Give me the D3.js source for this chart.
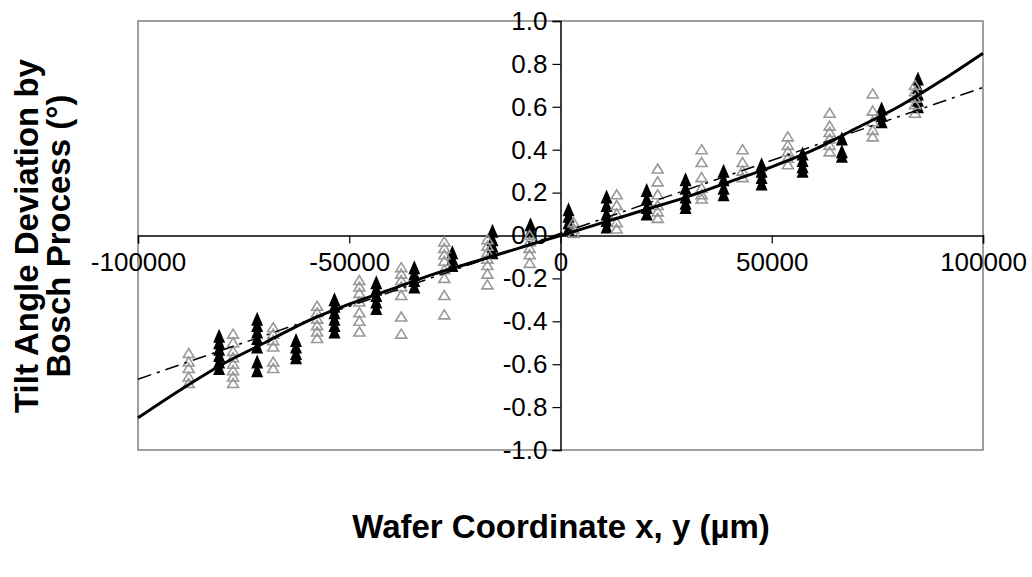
<!DOCTYPE html>
<html>
<head>
<meta charset="utf-8">
<script src="https://cdn.jsdelivr.net/npm/d3@7"></script>
<style>
  body { margin: 0; background: #fff; }
  svg { font-family: "Liberation Sans", Arial, sans-serif; }
</style>
</head>
<body>
<svg id="chart" width="1032" height="577"></svg>
<script>
// pontos pretos (preenchidos) - [x, y]
var blackPoints = [
  [-80800,-0.47],[-80800,-0.50],[-80800,-0.53],[-80800,-0.56],[-80800,-0.59],[-80800,-0.62],
  [-71800,-0.39],[-71800,-0.42],[-71800,-0.45],[-71800,-0.48],[-71800,-0.52],[-71800,-0.59],[-71800,-0.63],
  [-62600,-0.49],[-62600,-0.52],[-62600,-0.55],[-62600,-0.57],
  [-53500,-0.30],[-53500,-0.33],[-53500,-0.36],[-53500,-0.39],[-53500,-0.42],[-53500,-0.45],
  [-43600,-0.22],[-43600,-0.25],[-43600,-0.28],[-43600,-0.31],[-43600,-0.34],
  [-34600,-0.15],[-34600,-0.18],[-34600,-0.21],[-34600,-0.24],
  [-25600,-0.08],[-25600,-0.11],[-25600,-0.14],
  [-16100,0.02],[-16100,-0.02],[-16100,-0.05],[-16100,-0.08],
  [-7100,0.05],[-7100,0.02],
  [1900,0.12],[1900,0.09],[1900,0.06],[1900,0.03],
  [10900,0.18],[10900,0.14],[10900,0.10],[10900,0.07],[10900,0.04],
  [20400,0.21],[20400,0.17],[20400,0.13],[20400,0.10],
  [29600,0.26],[29600,0.22],[29600,0.18],[29600,0.15],[29600,0.13],
  [38600,0.30],[38600,0.26],[38600,0.22],[38600,0.19],
  [47600,0.33],[47600,0.30],[47600,0.27],[47600,0.24],
  [57300,0.38],[57300,0.35],[57300,0.32],[57300,0.30],
  [66600,0.45],[66600,0.39],[66600,0.37],
  [76000,0.59],[76000,0.56],[76000,0.53],
  [84600,0.73],[84600,0.69],[84600,0.66],[84600,0.63],[84600,0.60]
];

// pontos cinza (vazados) - [x, y]
var grayPoints = [
  [-88000,-0.55],[-88000,-0.59],[-88000,-0.62],[-88000,-0.66],[-88000,-0.69],
  [-77500,-0.46],[-77500,-0.50],[-77500,-0.54],[-77500,-0.57],[-77500,-0.60],[-77500,-0.63],[-77500,-0.66],[-77500,-0.69],
  [-68000,-0.43],[-68000,-0.46],[-68000,-0.49],[-68000,-0.52],[-68000,-0.59],[-68000,-0.62],
  [-57600,-0.33],[-57600,-0.36],[-57600,-0.39],[-57600,-0.42],[-57600,-0.45],[-57600,-0.48],
  [-47600,-0.21],[-47600,-0.24],[-47600,-0.27],[-47600,-0.31],[-47600,-0.36],[-47600,-0.40],[-47600,-0.45],
  [-37700,-0.15],[-37700,-0.18],[-37700,-0.21],[-37700,-0.24],[-37700,-0.28],[-37700,-0.38],[-37700,-0.46],
  [-27500,-0.03],[-27500,-0.06],[-27500,-0.09],[-27500,-0.12],[-27500,-0.16],[-27500,-0.20],[-27500,-0.28],[-27500,-0.37],
  [-17300,-0.02],[-17300,-0.05],[-17300,-0.08],[-17300,-0.11],[-17300,-0.14],[-17300,-0.18],[-17300,-0.23],
  [-7300,0.00],[-7300,-0.03],[-7300,-0.06],[-7300,-0.09],[-7300,-0.13],
  [3100,0.06],[3100,0.03],[3100,0.01],
  [13300,0.19],[13300,0.14],[13300,0.10],[13300,0.06],[13300,0.03],
  [23000,0.31],[23000,0.25],[23000,0.19],[23000,0.14],[23000,0.11],[23000,0.08],
  [33400,0.40],[33400,0.34],[33400,0.27],[33400,0.22],[33400,0.19],[33400,0.17],
  [43100,0.40],[43100,0.34],[43100,0.30],[43100,0.27],
  [53800,0.46],[53800,0.42],[53800,0.39],[53800,0.36],[53800,0.33],
  [63700,0.57],[63700,0.51],[63700,0.48],[63700,0.45],[63700,0.42],[63700,0.39],
  [73900,0.66],[73900,0.58],[73900,0.53],[73900,0.49],[73900,0.46],
  [83900,0.70],[83900,0.67],[83900,0.64],[83900,0.61],[83900,0.57]
];

// linha de tendência sólida (polinomial)
var curveX = [-100000,-90000,-80000,-70000,-60000,-50000,-40000,-30000,-20000,-10000,0,
              10000,20000,30000,40000,50000,60000,70000,80000,90000,100000];
var curveY = [-0.85,-0.72,-0.60,-0.50,-0.40,-0.32,-0.25,-0.18,-0.12,-0.06,0,
              0.06,0.12,0.18,0.25,0.32,0.40,0.50,0.60,0.72,0.85];

// linha traço-ponto (linear)
var dashX = [-100000, 100000];
var dashY = [-0.67, 0.69];

var xTicks = [-100000, -50000, 0, 50000, 100000];
var yTicks = [-1.0, -0.8, -0.6, -0.4, -0.2, 0, 0.2, 0.4, 0.6, 0.8, 1.0];

var svg = d3.select("#chart");

var x = d3.scaleLinear().domain([-100000, 100000]).range([138, 983]);
var y = d3.scaleLinear().domain([-1, 1]).range([450, 21]);

// moldura da área do gráfico
svg.append("rect")
  .attr("x", 138).attr("y", 21)
  .attr("width", 983 - 138).attr("height", 450 - 21)
  .attr("fill", "none")
  .attr("stroke", "#808080")
  .attr("stroke-width", 1.5);

// formatos com hífen comum no lugar do sinal de menos
var fmtX = function (d) { return d3.format("d")(d).replace("\u2212", "-"); };
var fmtY = function (d) { return d3.format(".1f")(d).replace("\u2212", "-"); };

// eixos cruzando no zero
var xAxis = svg.append("g")
  .attr("transform", "translate(0," + y(0) + ")")
  .call(d3.axisBottom(x).tickValues(xTicks).tickSize(8).tickFormat(fmtX));
var yAxis = svg.append("g")
  .attr("transform", "translate(" + x(0) + ",0)")
  .call(d3.axisLeft(y).tickValues(yTicks).tickSize(8).tickFormat(fmtY));

[xAxis, yAxis].forEach(function (g) {
  g.select(".domain").attr("stroke", "#000").attr("stroke-width", 1.5);
  g.selectAll(".tick line").attr("stroke", "#000").attr("stroke-width", 1.2);
  g.selectAll("text").attr("font-size", 26).attr("fill", "#000")
    .attr("font-family", "'Liberation Sans', Arial, sans-serif");
});
xAxis.selectAll("text").attr("y", 26).attr("dy", "0.35em");
yAxis.selectAll("text").attr("x", -13);

// marcadores
var blackTri = "M0,-7.5L6,6.5L-6,6.5Z";
var grayTri = "M0,-5L5.5,4L-5.5,4Z";

svg.append("g").selectAll("path")
  .data(blackPoints)
  .enter()
  .append("path")
  .attr("d", blackTri)
  .attr("transform", function (d) { return "translate(" + x(d[0]) + "," + y(d[1]) + ")"; })
  .attr("fill", "#000");

svg.append("g").selectAll("path")
  .data(grayPoints)
  .enter()
  .append("path")
  .attr("d", grayTri)
  .attr("transform", function (d) { return "translate(" + x(d[0]) + "," + y(d[1]) + ")"; })
  .attr("fill", "none")
  .attr("stroke", "#999")
  .attr("stroke-width", 1.6);

// linhas de tendência
var line = d3.line()
  .x(function (d) { return x(d[0]); })
  .y(function (d) { return y(d[1]); })
  .curve(d3.curveMonotoneX);

svg.append("path")
  .datum(d3.zip(curveX, curveY))
  .attr("d", line)
  .attr("fill", "none")
  .attr("stroke", "#000")
  .attr("stroke-width", 3);

svg.append("path")
  .datum(d3.zip(dashX, dashY))
  .attr("d", line)
  .attr("fill", "none")
  .attr("stroke", "#000")
  .attr("stroke-width", 1.5)
  .attr("stroke-dasharray", "14,6,3,6");

// títulos dos eixos
svg.append("text")
  .attr("x", 561).attr("y", 526)
  .attr("dy", "0.35em")
  .attr("text-anchor", "middle")
  .attr("font-size", 33)
  .attr("font-weight", "bold")
  .text("Wafer Coordinate x, y (µm)");

var yTitle = svg.append("text")
  .attr("transform", "translate(40,236) rotate(-90)")
  .attr("text-anchor", "middle")
  .attr("font-size", 33)
  .attr("font-weight", "bold");
yTitle.append("tspan").attr("x", 0).attr("y", -2).text("Tilt Angle Deviation by");
yTitle.append("tspan").attr("x", 0).attr("y", 30).text("Bosch Process (°)");
</script>
</body>
</html>
